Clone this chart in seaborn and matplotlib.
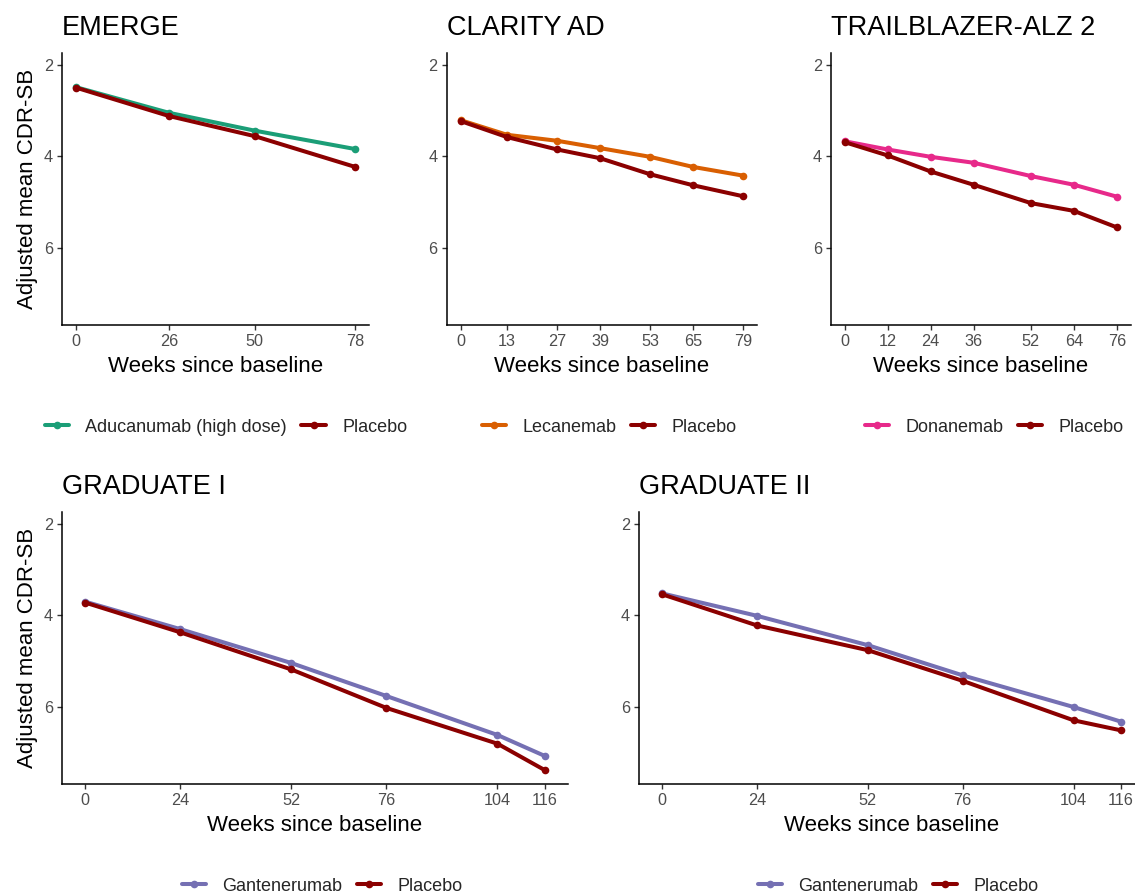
import matplotlib
matplotlib.use("Agg")
import matplotlib.pyplot as plt
import pandas as pd
import seaborn as sns

# ---------------- data ----------------
emerge_weeks = [0, 26, 50, 78]
emerge_drug = [2.49, 3.05, 3.44, 3.84]
emerge_placebo = [2.50, 3.12, 3.56, 4.23]

clarity_weeks = [0, 13, 27, 39, 53, 65, 79]
clarity_drug = [3.21, 3.53, 3.66, 3.82, 4.01, 4.23, 4.42]
clarity_placebo = [3.23, 3.58, 3.85, 4.04, 4.39, 4.63, 4.87]

trail_weeks = [0, 12, 24, 36, 52, 64, 76]
trail_drug = [3.67, 3.85, 4.01, 4.14, 4.43, 4.62, 4.88]
trail_placebo = [3.69, 3.98, 4.33, 4.62, 5.02, 5.19, 5.55]

grad_weeks = [0, 24, 52, 76, 104, 116]
grad1_drug = [3.70, 4.30, 5.04, 5.76, 6.61, 7.07]
grad1_placebo = [3.72, 4.37, 5.18, 6.02, 6.80, 7.38]
grad2_drug = [3.52, 4.01, 4.65, 5.31, 6.00, 6.32]
grad2_placebo = [3.54, 4.22, 4.76, 5.43, 6.29, 6.51]

titles = ["EMERGE", "CLARITY AD", "TRAILBLAZER-ALZ 2", "GRADUATE I", "GRADUATE II"]
drug_names = ["Aducanumab (high dose)", "Lecanemab", "Donanemab", "Gantenerumab", "Gantenerumab"]
drug_colors = ["#1B9E77", "#D95F02", "#E7298A", "#7570B3", "#7570B3"]
placebo_name = "Placebo"
placebo_color = "#8B0000"
y_ticks = [2, 4, 6]

# ---------------- styling ----------------
sns.set_theme(style="ticks")
plt.rcParams["font.family"] = ["Liberation Sans", "DejaVu Sans"]

W, H = 1135, 896
fig = plt.figure(figsize=(W / 100, H / 100), dpi=100)


def add_ax(left, top, right, bottom):
    return fig.add_axes([left / W, 1 - bottom / H, (right - left) / W, (bottom - top) / H])


series = [
    (emerge_weeks, emerge_drug, emerge_placebo),
    (clarity_weeks, clarity_drug, clarity_placebo),
    (trail_weeks, trail_drug, trail_placebo),
    (grad_weeks, grad1_drug, grad1_placebo),
    (grad_weeks, grad2_drug, grad2_placebo),
]
boxes = [(62, 53, 369, 325), (446.5, 53, 757, 325), (831, 53, 1130.5, 325),
         (62, 512, 568, 784), (639, 512, 1144, 784)]
legend_pos = [(226, 427), (609, 427), (994, 427), (322, 886), (898, 886)]
show_ylabel = [True, False, False, True, False]

for i in range(5):
    weeks, drug, plac = series[i]
    n = len(weeks)
    df = pd.DataFrame({
        "week": list(weeks) * 2,
        "value": list(drug) + list(plac),
        "arm": [drug_names[i]] * n + [placebo_name] * n,
    })
    ax = add_ax(*boxes[i])
    sns.lineplot(data=df, x="week", y="value", hue="arm",
                 hue_order=[drug_names[i], placebo_name],
                 palette=[drug_colors[i], placebo_color],
                 marker="o", markersize=5.5, markeredgewidth=0,
                 linewidth=2.9, ax=ax, legend=False, errorbar=None)
    xmax = max(weeks)
    ax.set_xlim(-0.05 * xmax, 1.05 * xmax)
    ax.set_ylim(7.68, 1.745)
    ax.set_xticks(weeks)
    ax.set_yticks(y_ticks)
    sns.despine(ax=ax)
    for s in ["left", "bottom"]:
        ax.spines[s].set_linewidth(1.1)
        ax.spines[s].set_color("black")
    ax.tick_params(direction="out", length=3.5, width=1.0, color="#333333",
                   labelsize=11.7, labelcolor="#4D4D4D", pad=3)
    ax.set_xlabel("Weeks since baseline", fontsize=16, color="black", labelpad=5)
    if show_ylabel[i]:
        ax.set_ylabel("Adjusted mean CDR-SB", fontsize=16, color="black", labelpad=4)
    else:
        ax.set_ylabel("")
    ax.set_title(titles[i], loc="left", fontsize=19.5, pad=13, color="black")

    handles = ax.lines[:2]
    cx, cy = legend_pos[i]
    fig.legend(handles, [drug_names[i], placebo_name], loc="center",
               bbox_to_anchor=(cx / W, 1 - cy / H), ncol=2, frameon=False,
               fontsize=13, handlelength=1.35, handletextpad=0.9,
               columnspacing=0.8)

fig.savefig("out.png", dpi=100, facecolor="white")
